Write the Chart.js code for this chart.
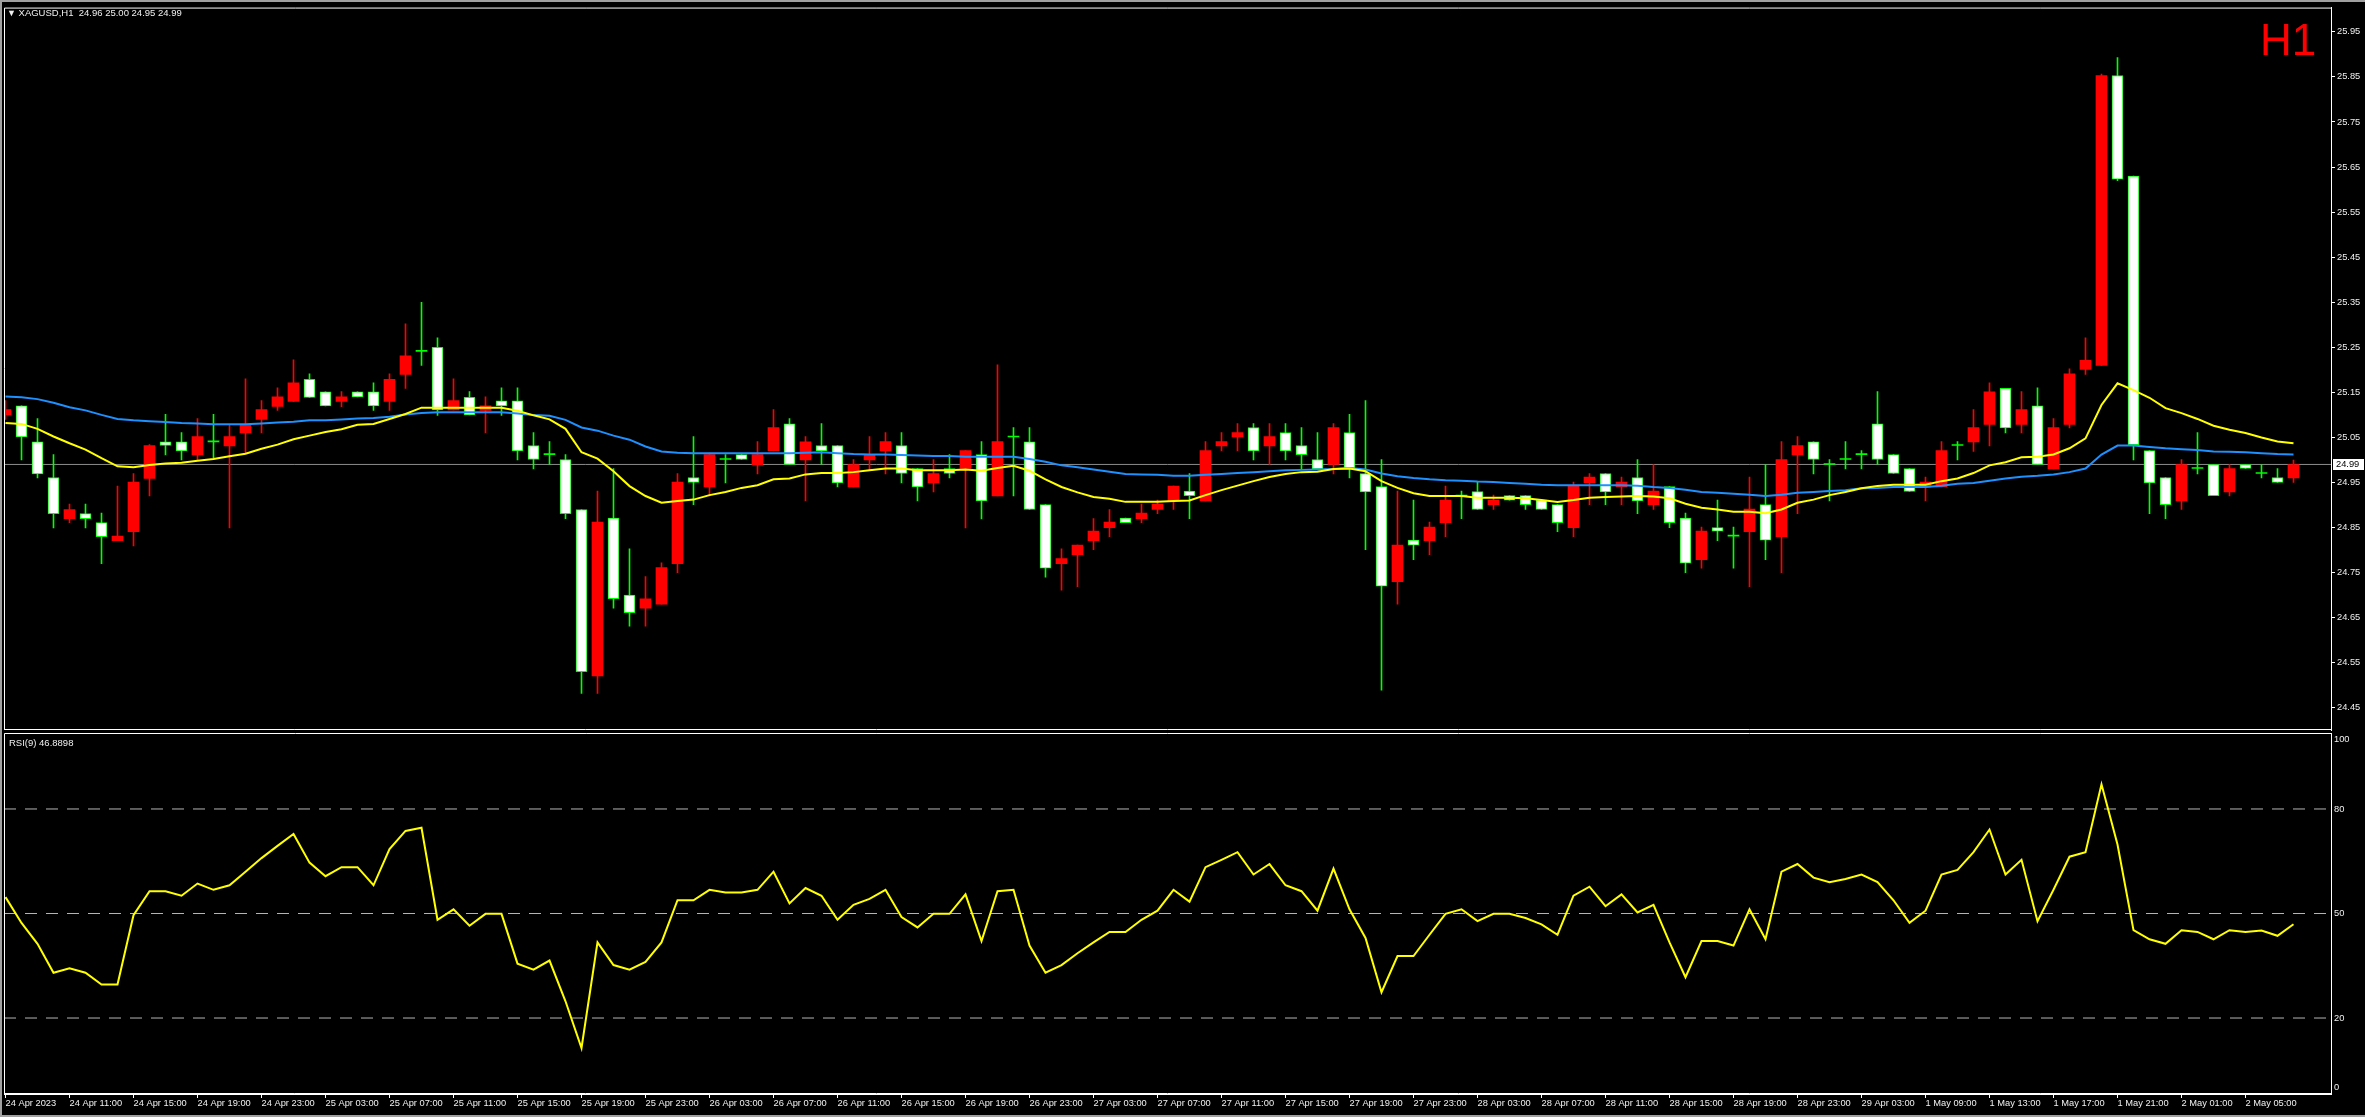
<!DOCTYPE html>
<html>
<head>
<meta charset="utf-8">
<title>XAGUSD H1</title>
<script src="https://cdn.jsdelivr.net/npm/chart.js@4.4.0/dist/chart.umd.min.js"></script>
<style>
  html, body { margin: 0; padding: 0; background: #000; }
  #wrap { position: relative; width: 2365px; height: 1117px; overflow: hidden; background: #000; }
  .layer { position: absolute; left: 0; top: 0; width: 2365px; height: 1117px; }
  .frame { position: absolute; left: 0; top: 0; width: 2365px; height: 1117px; box-sizing: border-box;
           border-top: 2px solid #a0a0a0; border-left: 2px solid #a0a0a0; border-bottom: 2px solid #a0a0a0; pointer-events: none; }
  .txt { position: absolute; font-family: "Liberation Sans", Arial, sans-serif; font-size: 9.5px; line-height: 11px;
         color: #f0f0f0; white-space: pre; }
  #tf { position: absolute; left: 2260px; top: 18px; font-family: "Liberation Sans", Arial, sans-serif;
        font-size: 44px; line-height: 44px; color: #ff0000; }
</style>
</head>
<body>
<div id="wrap">
  <div class="layer"><canvas id="priceChart"></canvas></div>
  <div class="layer"><canvas id="rsiChart"></canvas></div>
  <div class="frame"></div>
  <div class="txt" style="left:7px; top:7px;"><span style="font-size:9px;">&#9660;</span> XAGUSD,H1  24.96 25.00 24.95 24.99</div>
  <div id="tf">H1</div>
  <div class="txt" style="left:9px; top:737px;">RSI(9) 46.8898</div>
</div>

<script>
// XAGUSD H1, 24 Apr 07:00 .. 2 May 08:00 (144 bars)
const opens = [25.100,25.120,25.040,24.961,24.870,24.881,24.861,24.821,24.841,24.959,
  25.040,25.040,25.011,25.040,25.031,25.060,25.090,25.119,25.130,25.179,
  25.151,25.130,25.151,25.151,25.130,25.190,25.241,25.250,25.111,25.139,
  25.110,25.131,25.131,25.032,25.012,25.001,24.890,24.521,24.871,24.700,
  24.671,24.680,24.770,24.961,24.940,25.001,25.012,24.989,25.020,25.080,
  25.000,25.032,25.032,24.940,25.000,25.020,25.032,24.981,24.949,24.981,
  24.981,25.012,24.920,25.051,25.040,24.901,24.770,24.790,24.821,24.850,
  24.871,24.870,24.890,24.909,24.931,24.909,25.031,25.051,25.072,25.031,
  25.061,25.032,25.001,24.990,25.061,24.970,24.941,24.730,24.822,24.821,
  24.861,24.920,24.930,24.901,24.921,24.921,24.911,24.901,24.850,24.949,
  24.970,24.940,24.961,24.901,24.941,24.871,24.779,24.850,24.831,24.841,
  24.901,24.830,25.011,25.040,24.990,25.001,25.012,25.080,25.012,24.981,
  24.940,24.940,25.032,25.040,25.079,25.159,25.079,25.120,24.980,25.079,
  25.201,25.210,25.853,25.630,25.021,24.961,24.909,24.981,24.990,24.929,
  24.990,24.970,24.961,24.960];
const highs = [25.132,25.120,25.092,25.012,24.902,24.902,24.882,24.942,24.970,25.034,
  25.101,25.061,25.092,25.101,25.077,25.180,25.132,25.160,25.222,25.191,
  25.151,25.152,25.151,25.171,25.191,25.302,25.350,25.271,25.180,25.152,
  25.140,25.160,25.160,25.061,25.041,25.012,24.890,24.931,24.981,24.803,
  24.741,24.772,24.970,25.052,25.015,25.012,25.012,25.041,25.112,25.092,
  25.052,25.081,25.032,25.001,25.052,25.061,25.061,24.981,25.001,25.012,
  25.021,25.041,25.211,25.072,25.072,24.901,24.803,24.811,24.870,24.890,
  24.871,24.902,24.911,24.942,24.970,25.041,25.061,25.081,25.081,25.081,
  25.081,25.072,25.061,25.081,25.101,25.132,25.001,24.931,24.911,24.862,
  24.942,24.931,24.951,24.922,24.921,24.921,24.911,24.901,24.951,24.970,
  24.970,24.962,25.001,24.990,24.941,24.882,24.851,24.911,24.851,24.962,
  24.990,25.041,25.052,25.040,25.001,25.041,25.021,25.152,25.012,24.981,
  24.962,25.041,25.041,25.112,25.171,25.159,25.152,25.160,25.092,25.202,
  25.271,25.856,25.893,25.630,25.021,24.961,25.001,25.061,24.990,24.990,
  24.990,24.990,24.981,25.000];
const lows = [25.090,25.000,24.960,24.849,24.861,24.849,24.770,24.821,24.809,24.920,
  25.011,25.000,25.000,25.004,24.849,25.015,25.060,25.110,25.130,25.139,
  25.120,25.118,25.140,25.110,25.110,25.159,25.210,25.099,25.111,25.100,
  25.060,25.099,25.000,24.980,24.990,24.870,24.482,24.482,24.671,24.631,
  24.631,24.680,24.750,24.901,24.920,24.949,25.001,24.969,25.020,24.990,
  24.909,24.990,24.940,24.940,24.979,24.969,24.949,24.909,24.929,24.960,
  24.849,24.869,24.920,24.920,24.890,24.740,24.711,24.719,24.801,24.830,
  24.861,24.861,24.881,24.890,24.870,24.909,25.020,25.020,25.000,24.990,
  25.000,24.980,24.980,24.969,24.960,24.801,24.489,24.680,24.779,24.790,
  24.830,24.870,24.890,24.890,24.911,24.890,24.890,24.841,24.830,24.901,
  24.901,24.901,24.881,24.890,24.850,24.750,24.760,24.821,24.760,24.719,
  24.779,24.750,24.881,24.969,24.909,24.980,24.980,24.990,24.970,24.930,
  24.909,24.940,25.000,25.019,25.031,25.060,25.060,24.990,24.980,25.071,
  25.190,25.210,25.620,25.000,24.881,24.870,24.890,24.969,24.921,24.920,
  24.981,24.960,24.950,24.950];
const closes = [25.112,25.051,24.969,24.881,24.890,24.870,24.830,24.831,24.951,25.032,
  25.032,25.020,25.052,25.040,25.052,25.077,25.112,25.140,25.171,25.139,
  25.120,25.140,25.140,25.120,25.179,25.231,25.241,25.111,25.132,25.100,
  25.120,25.120,25.020,25.001,25.012,24.881,24.530,24.862,24.692,24.661,
  24.692,24.761,24.951,24.950,25.012,25.001,25.001,25.012,25.072,24.990,
  25.040,25.020,24.949,24.990,25.012,25.041,24.970,24.940,24.970,24.970,
  25.021,24.909,25.041,25.051,24.890,24.760,24.781,24.811,24.842,24.862,
  24.861,24.882,24.902,24.942,24.921,25.021,25.041,25.061,25.020,25.052,
  25.020,25.012,24.980,25.072,24.981,24.929,24.720,24.811,24.811,24.851,
  24.911,24.920,24.890,24.911,24.911,24.901,24.890,24.861,24.942,24.962,
  24.929,24.951,24.909,24.931,24.861,24.771,24.842,24.842,24.831,24.891,
  24.822,25.001,25.032,25.001,24.990,25.001,25.012,25.001,24.970,24.930,
  24.951,25.021,25.032,25.072,25.151,25.071,25.112,24.990,25.072,25.191,
  25.221,25.853,25.623,25.034,24.949,24.901,24.990,24.981,24.921,24.981,
  24.981,24.970,24.950,24.990];

// moving averages on the price panel (yellow fast, blue slow)
const maFast = [25.082,25.080,25.069,25.052,25.037,25.023,25.004,24.986,24.984,24.989,
  24.992,24.994,24.998,25.002,25.008,25.014,25.025,25.034,25.046,25.054,
  25.062,25.068,25.078,25.080,25.091,25.102,25.116,25.116,25.116,25.116,
  25.116,25.116,25.109,25.099,25.090,25.069,25.017,25.003,24.975,24.942,
  24.920,24.905,24.909,24.912,24.922,24.929,24.938,24.944,24.957,24.959,
  24.968,24.971,24.971,24.973,24.977,24.981,24.981,24.977,24.977,24.977,
  24.979,24.976,24.982,24.987,24.976,24.957,24.940,24.928,24.918,24.914,
  24.907,24.907,24.907,24.909,24.910,24.922,24.933,24.943,24.953,24.962,
  24.969,24.973,24.974,24.980,24.981,24.975,24.953,24.938,24.926,24.920,
  24.920,24.920,24.916,24.916,24.916,24.915,24.911,24.907,24.911,24.916,
  24.918,24.919,24.920,24.919,24.915,24.903,24.894,24.890,24.885,24.885,
  24.882,24.890,24.905,24.912,24.922,24.929,24.937,24.942,24.945,24.945,
  24.945,24.953,24.959,24.971,24.988,24.995,25.006,25.007,25.012,25.026,
  25.048,25.122,25.170,25.155,25.138,25.115,25.104,25.091,25.076,25.067,
  25.060,25.050,25.041,25.037];
const maSlow = [25.141,25.139,25.135,25.127,25.117,25.110,25.100,25.091,25.088,25.086,
  25.084,25.082,25.081,25.079,25.079,25.079,25.081,25.083,25.085,25.088,
  25.088,25.090,25.092,25.093,25.096,25.101,25.104,25.106,25.106,25.106,
  25.106,25.106,25.103,25.100,25.098,25.089,25.072,25.065,25.054,25.045,
  25.030,25.019,25.016,25.015,25.015,25.015,25.015,25.015,25.015,25.015,
  25.016,25.017,25.015,25.013,25.012,25.012,25.011,25.010,25.009,25.009,
  25.007,25.007,25.007,25.007,25.002,24.996,24.988,24.984,24.979,24.974,
  24.969,24.968,24.967,24.965,24.965,24.967,24.969,24.971,24.973,24.975,
  24.977,24.978,24.979,24.980,24.982,24.979,24.970,24.964,24.960,24.957,
  24.955,24.954,24.952,24.951,24.949,24.947,24.945,24.944,24.944,24.944,
  24.944,24.944,24.943,24.940,24.938,24.934,24.929,24.927,24.925,24.923,
  24.920,24.923,24.927,24.929,24.931,24.933,24.937,24.938,24.940,24.940,
  24.940,24.943,24.947,24.949,24.954,24.959,24.963,24.965,24.968,24.973,
  24.981,25.012,25.032,25.032,25.029,25.026,25.024,25.022,25.019,25.018,
  25.017,25.015,25.013,25.012];

// RSI(9) panel
const rsi = [54.7,47.3,41.3,33.0,34.3,33.0,29.6,29.6,49.5,56.4,
  56.4,55.1,58.6,56.8,58.1,62.0,65.9,69.4,72.8,64.6,
  60.7,63.3,63.3,58.1,68.5,73.7,74.6,48.2,51.2,46.5,
  49.9,49.9,35.6,33.9,36.5,24.8,11.4,41.7,35.2,33.9,
  36.1,41.7,53.8,53.8,56.8,56.0,56.0,56.8,62.0,52.9,
  57.3,55.1,48.2,52.5,54.2,56.8,49.0,46.0,49.9,49.9,
  55.5,42.1,56.4,56.8,40.8,33.0,35.2,38.6,41.7,44.7,
  44.7,48.2,50.8,56.8,53.4,63.3,65.4,67.6,61.2,64.2,
  58.1,56.4,50.8,62.9,51.2,43.0,27.4,37.8,37.8,43.9,
  49.9,51.2,47.8,49.9,49.9,48.7,46.9,43.9,55.1,57.7,
  52.1,55.5,50.3,52.5,41.7,31.7,42.1,42.1,40.8,51.2,
  42.6,62.0,64.2,60.3,59.0,59.9,61.2,59.0,53.8,47.3,
  50.8,61.2,62.5,67.6,74.1,61.2,65.4,47.8,56.8,66.3,
  67.6,87.1,69.8,45.2,42.6,41.3,45.2,44.7,42.6,45.2,
  44.7,45.1,43.6,46.9];

// one time label every 4 bars
const xLabels = ['24 Apr 2023','24 Apr 11:00','24 Apr 15:00','24 Apr 19:00','24 Apr 23:00',
  '25 Apr 03:00','25 Apr 07:00','25 Apr 11:00','25 Apr 15:00','25 Apr 19:00','25 Apr 23:00',
  '26 Apr 03:00','26 Apr 07:00','26 Apr 11:00','26 Apr 15:00','26 Apr 19:00','26 Apr 23:00',
  '27 Apr 03:00','27 Apr 07:00','27 Apr 11:00','27 Apr 15:00','27 Apr 19:00','27 Apr 23:00',
  '28 Apr 03:00','28 Apr 07:00','28 Apr 11:00','28 Apr 15:00','28 Apr 19:00','28 Apr 23:00',
  '29 Apr 03:00','1 May 09:00','1 May 13:00','1 May 17:00','1 May 21:00','2 May 01:00','2 May 05:00'];
const priceTicks = [24.45,24.55,24.65,24.75,24.85,24.95,25.05,25.15,25.25,25.35,25.45,25.55,25.65,25.75,25.85,25.95];
const rsiTicks = [0,20,50,80,100];
const rsiLevels = [80,50,20];
const lastPrice = 24.99;

// ---- view window (16 px per bar) ----
const X_MIN = -0.094, X_MAX = 145.344;
const P_MIN = 24.4008, P_MAX = 26.0038;
const R_MIN = -1.81, R_MAX = 101.81;

const idx = closes.map((_, i) => i);
const bodyFill = idx.map(i => closes[i] > opens[i] ? '#ff0000' : (closes[i] === opens[i] ? '#00ff00' : '#ffffff'));
const bodyLine = idx.map(i => closes[i] > opens[i] ? '#ff0000' : '#00ff00');
const bodyBW = idx.map(i => closes[i] < opens[i] ? 1 : 0);
const wickCol = idx.map(i => closes[i] > opens[i] ? '#ff0000' : '#00ff00');

Chart.defaults.font.family = '"Liberation Sans", Arial, sans-serif';
Chart.defaults.animation = false;

const FG = '#f0f0f0';
const tickFont = { size: 9.3 };

// white panel frame
const panelFrame = {
    id: 'panelFrame',
    afterDraw(chart) {
        const a = chart.chartArea, ctx = chart.ctx;
        ctx.save();
        ctx.strokeStyle = '#ffffff';
        ctx.lineWidth = 1;
        ctx.beginPath();
        ctx.moveTo(a.left + 0.5, a.bottom - 0.5);
        ctx.lineTo(a.left + 0.5, a.top + 0.5);
        ctx.lineTo(a.right, a.top + 0.5);
        ctx.moveTo(a.left, a.bottom - 0.5);
        ctx.lineTo(a.right, a.bottom - 0.5);
        ctx.stroke();
        ctx.restore();
    }
};

// bid price box on the price axis
const bidBox = {
    id: 'bidBox',
    afterDraw(chart) {
        const y = Math.round(chart.scales.y.getPixelForValue(lastPrice));
        const ctx = chart.ctx, x = chart.chartArea.right + 2;
        ctx.save();
        ctx.fillStyle = '#ffffff';
        ctx.fillRect(x, y - 5, 31, 11);
        ctx.fillStyle = '#000000';
        ctx.font = '9.3px "Liberation Sans", Arial, sans-serif';
        ctx.textBaseline = 'middle';
        ctx.fillText(lastPrice.toFixed(2), x + 3, y + 0.5);
        ctx.restore();
    }
};

new Chart(document.getElementById('priceChart'), {
    type: 'bar',
    data: {
        datasets: [
            { type: 'line', label: 'MA fast', data: idx.map(i => ({ x: i, y: maFast[i] })),
              borderColor: '#ffff00', borderWidth: 2, pointRadius: 0, tension: 0, order: 0 },
            { type: 'line', label: 'MA slow', data: idx.map(i => ({ x: i, y: maSlow[i] })),
              borderColor: '#1e90ff', borderWidth: 2, pointRadius: 0, tension: 0, order: 1 },
            { type: 'bar', label: 'body', data: idx.map(i => ({ x: i, y: [Math.min(opens[i], closes[i]), Math.max(opens[i], closes[i])] })),
              backgroundColor: bodyFill, borderColor: bodyLine, borderWidth: bodyBW, borderSkipped: false,
              barThickness: 11, minBarLength: 1, grouped: false, order: 2 },
            { type: 'bar', label: 'wick', data: idx.map(i => ({ x: i, y: [lows[i], highs[i]] })),
              backgroundColor: wickCol, borderWidth: 0, barThickness: 1, grouped: false, order: 3 },
            { type: 'line', label: 'bid', data: [{ x: X_MIN, y: lastPrice }, { x: X_MAX, y: lastPrice }],
              borderColor: '#8c8c8c', borderWidth: 1, pointRadius: 0, order: 4 }
        ]
    },
    options: {
        responsive: true,
        maintainAspectRatio: false,
        events: [],
        layout: { padding: { left: 4, top: 4, right: 0, bottom: 387 } },
        plugins: { legend: { display: false }, tooltip: { enabled: false }, title: { display: false } },
        scales: {
            x: { type: 'linear', display: false, min: X_MIN, max: X_MAX, offset: false, bounds: 'data', grid: { offset: false } },
            y: {
                type: 'linear', position: 'right', min: P_MIN, max: P_MAX, bounds: 'data', beginAtZero: false,
                afterFit: s => { s.width = 34; },
                afterBuildTicks: s => { s.ticks = priceTicks.map(v => ({ value: v })); },
                ticks: { color: FG, font: tickFont, padding: 2, callback: v => Number(v).toFixed(2) },
                grid: { drawOnChartArea: false, drawTicks: true, tickLength: 4, color: '#ffffff' },
                border: { color: '#ffffff' }
            }
        }
    },
    plugins: [panelFrame, bidBox]
});

const rsiSets = [
    { label: 'RSI(9)', data: idx.map(i => ({ x: i, y: rsi[i] })),
      borderColor: '#ffff00', borderWidth: 2, pointRadius: 0, tension: 0, order: 0 }
];
rsiLevels.forEach(v => rsiSets.push({
    label: 'level ' + v, data: [{ x: X_MIN, y: v }, { x: X_MAX, y: v }],
    borderColor: '#b4b4b4', borderWidth: 1, borderDash: [12, 9], pointRadius: 0, order: 1
}));

new Chart(document.getElementById('rsiChart'), {
    type: 'line',
    data: { datasets: rsiSets },
    options: {
        responsive: true,
        maintainAspectRatio: false,
        events: [],
        layout: { padding: { left: 4, top: 733, right: 0, bottom: 0 } },
        plugins: { legend: { display: false }, tooltip: { enabled: false } },
        scales: {
            x: {
                type: 'linear', position: 'bottom', min: X_MIN, max: X_MAX, bounds: 'data', offset: false,
                afterFit: s => { s.height = 23; },
                afterBuildTicks: s => { s.ticks = xLabels.map((_, k) => ({ value: k * 4 })); },
                ticks: { color: FG, font: tickFont, align: 'start', padding: 0, maxRotation: 0, minRotation: 0,
                         autoSkip: false, callback: (v, k) => xLabels[k] },
                grid: { drawOnChartArea: false, drawTicks: true, tickLength: 4, color: '#ffffff', offset: false },
                border: { color: '#ffffff' }
            },
            y: {
                type: 'linear', position: 'right', min: R_MIN, max: R_MAX, bounds: 'data',
                afterFit: s => { s.width = 34; },
                afterBuildTicks: s => { s.ticks = rsiTicks.map(v => ({ value: v })); },
                ticks: { color: FG, font: tickFont, padding: 3, callback: v => String(v) },
                grid: { drawOnChartArea: false, drawTicks: false },
                border: { color: '#ffffff' }
            }
        }
    },
    plugins: [panelFrame]
});
</script>
</body>
</html>
